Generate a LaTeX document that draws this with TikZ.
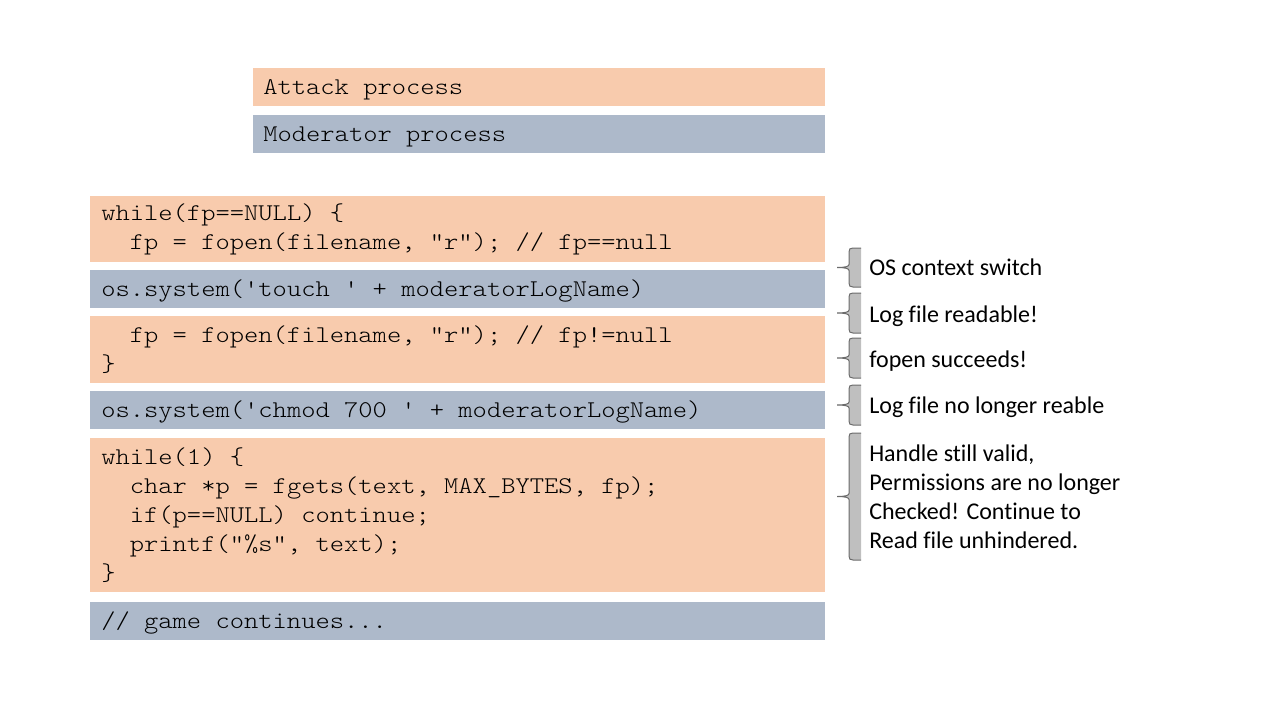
\documentclass[tikz,border=0pt]{standalone}
\usepackage{fontspec}
\setmainfont{Carlito}[Ligatures=NoCommon]
\newfontfamily\codefam{Latin Modern Mono Light}[FakeStretch=1.134]
\definecolor{att}{HTML}{F8CBAD}
\definecolor{mod}{HTML}{ADB9CA}
\definecolor{brfill}{HTML}{BFBFBF}
\definecolor{brline}{HTML}{6B6B6B}
\newcommand\fixsp{\frenchspacing\spaceskip=0pt\xspaceskip=0pt\rightskip=0pt plus 1fil\relax}
\newcommand\cbrace[2]{%
  \pgfmathsetmacro\ym{(#1+#2)/2}%
  \fill[brfill] (861,#1) -- (853,#1) .. controls (850,#1) and (849,#1+1) .. (849,#1+4)
    -- (849,\ym-3) .. controls (849,\ym-1) and (845,\ym) .. (837,\ym)
    .. controls (845,\ym) and (849,\ym+1) .. (849,\ym+3)
    -- (849,#2-4) .. controls (849,#2-1) and (850,#2) .. (853,#2) -- (861,#2) -- cycle;
  \draw[brline, line width=0.75pt] (861,#1) -- (853,#1) .. controls (850,#1) and (849,#1+1) .. (849,#1+4)
    -- (849,\ym-3) .. controls (849,\ym-1) and (845,\ym) .. (837,\ym)
    .. controls (845,\ym) and (849,\ym+1) .. (849,\ym+3)
    -- (849,#2-4) .. controls (849,#2-1) and (850,#2) .. (853,#2) -- (861,#2);
}
\begin{document}
\begin{tikzpicture}[x=0.75pt,y=-0.75pt,
  codefont/.style={font=\codefam\fontsize{18}{21.75}\selectfont},
  codebox/.style={codefont, anchor=north west, inner xsep=8.25pt, inner ysep=0pt,
     align=left, text width=534.75pt},
  oneline/.style={minimum height=28.5pt, text height=13pt, text depth=2pt},
  legendbox/.style={codefont, anchor=north west, inner xsep=7.5pt, inner ysep=0pt,
     align=left, text width=414pt, oneline},
  attbox/.style={fill=att},
  modbox/.style={fill=mod},
  note/.style={anchor=base west, inner sep=0pt, align=left, font=\fontsize{18}{21.75}\selectfont},
  bignote/.style={anchor=west, inner sep=0pt, align=left, font=\fontsize{18}{21.75}\selectfont}
]
\useasboundingbox (0,0) rectangle (1280,720);

\node[legendbox, attbox] (attack) at (253,68) {\fixsp Attack process};
\node[legendbox, modbox] (moderator) at (253,115) {\fixsp Moderator process};

\node[codebox, attbox, minimum height=49.5pt] (b1) at (90,196)
  {\fixsp while(fp==NULL) \{\\\hphantom{xx}fp = fopen(filename, "r"); // fp==null};
\node[codebox, modbox, oneline] (b2) at (90,270)
  {\fixsp os.system('touch ' + moderatorLogName)};
\node[codebox, attbox, minimum height=50.25pt] (b3) at (90,316)
  {\fixsp\hphantom{xx}fp = fopen(filename, "r"); // fp!=null\\\}};
\node[codebox, modbox, oneline] (b4) at (90,391)
  {\fixsp os.system('chmod 700 ' + moderatorLogName)};
\node[codebox, attbox, minimum height=115.5pt] (b5) at (90,438)
  {\fixsp while(1) \{\\
   \hphantom{xx}char *p = fgets(text, MAX\_BYTES, fp);\\
   \hphantom{xx}if(p==NULL) continue;\\
   \hphantom{xx}printf("\%s", text);\\
   \}};
\node[codebox, modbox, oneline] (b6) at (90,602)
  {\fixsp // game continues...};

\cbrace{248}{287}
\cbrace{293}{333}
\cbrace{338}{378}
\cbrace{385}{425}
\cbrace{433}{560}

\node[note] (n1) at (869,275.5) {\fixsp OS context switch};
\node[note] (n2) at (869,322) {\fixsp Log file readable!};
\node[note] (n3) at (869,367.5) {\fixsp fopen succeeds!};
\node[note] (n4) at (869,413) {\fixsp Log file no longer reable};
\node[bignote] (n5) at (869,496.5) {\fixsp Handle still valid,\\Permissions are no longer\\Checked! Continue to\\Read file unhindered.};
\end{tikzpicture}
\end{document}
